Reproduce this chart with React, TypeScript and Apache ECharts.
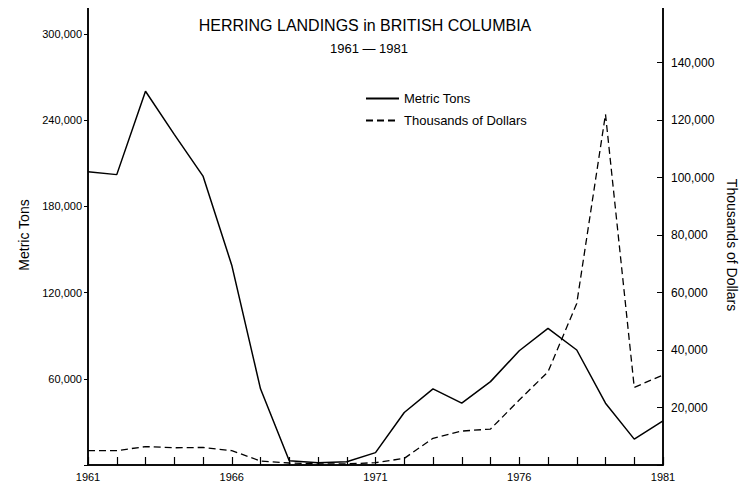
import React, { useEffect, useRef } from "react";
import * as echarts from "echarts";

const years = [
  "1961", "1962", "1963", "1964", "1965", "1966", "1967", "1968", "1969", "1970",
  "1971", "1972", "1973", "1974", "1975", "1976", "1977", "1978", "1979", "1980", "1981",
];
const metricTons = [
  204000, 202000, 260000, 230000, 201000, 139000, 53000, 3000, 1600, 2200,
  8600, 36500, 53000, 43000, 58000, 79500, 95000, 80000, 43000, 18000, 30700,
];
const thousandsDollars = [
  5000, 5000, 6400, 6000, 6100, 5000, 1400, 700, 400, 400,
  800, 2300, 9300, 11800, 12500, 22600, 32400, 56200, 122000, 27000, 31300,
];
const titleLine1 = "HERRING LANDINGS in BRITISH COLUMBIA";
const titleLine2 = "1961 \u2014 1981";

const FONT = "'Liberation Sans', Arial, Helvetica, sans-serif";

function fmt(v: number): string {
  return String(v).replace(/\B(?=(\d{3})+(?!\d))/g, ",");
}

export default function App() {
  const ref = useRef<HTMLDivElement>(null);
  useEffect(() => {
    if (!ref.current) return;
    const chart = echarts.init(ref.current, undefined, { renderer: "svg" });
    chart.setOption({
      animation: false,
      backgroundColor: "#fff",
      textStyle: { fontFamily: FONT, color: "#000" },
      title: [
        {
          text: titleLine1,
          left: 360,
          top: 12,
          textAlign: "center",
          textStyle: { fontFamily: FONT, fontSize: 16, fontWeight: "normal", color: "#000" },
        },
        {
          text: titleLine2,
          left: 364,
          top: 37,
          textAlign: "center",
          textStyle: { fontFamily: FONT, fontSize: 13, fontWeight: "normal", color: "#000" },
        },
      ],
      legend: {
        orient: "vertical",
        left: 360,
        top: 87,
        padding: 5,
        itemWidth: 33,
        itemHeight: 10,
        itemGap: 9,
        itemStyle: { opacity: 0 },
        textStyle: { fontFamily: FONT, fontSize: 13, color: "#000" },
        data: ["Metric Tons", "Thousands of Dollars"],
      },
      grid: {
        left: 88,
        right: 92,
        top: 5,
        bottom: 25,
        show: true,
        borderColor: "#000",
        borderWidth: 1.5,
        backgroundColor: "transparent",
      },
      xAxis: {
        type: "category",
        data: years,
        boundaryGap: false,
        axisLine: { show: true, lineStyle: { color: "#000", width: 1.5 } },
        axisTick: { show: true, inside: true, length: 8, interval: 0, lineStyle: { color: "#000", width: 1.2 } },
        axisLabel: { interval: 4, color: "#000", fontSize: 11, fontFamily: FONT, margin: 6 },
        splitLine: { show: false },
      },
      yAxis: [
        {
          type: "value",
          min: 0,
          max: 320000,
          interval: 60000,
          position: "left",
          name: "Metric Tons",
          nameLocation: "middle",
          nameRotate: 90,
          nameGap: 56,
          nameTextStyle: { fontFamily: FONT, fontSize: 14, color: "#000" },
          axisLine: { show: true, lineStyle: { color: "#000", width: 1.5 } },
          axisTick: { show: true, length: 4, lineStyle: { color: "#000" } },
          axisLabel: {
            color: "#000",
            fontSize: 11,
            fontFamily: FONT,
            margin: 6,
            formatter: (v: number) => (v === 0 || v > 300000 ? "" : fmt(v)),
          },
          splitLine: { show: false },
        },
        {
          type: "value",
          min: 0,
          max: 160000,
          interval: 20000,
          position: "right",
          name: "Thousands of Dollars",
          nameLocation: "middle",
          nameRotate: -90,
          nameGap: 58,
          nameTextStyle: { fontFamily: FONT, fontSize: 14, color: "#000", padding: [0, 0, 0, 20] },
          axisLine: { show: true, lineStyle: { color: "#000", width: 1.5 } },
          axisTick: { show: true, inside: true, length: 6, lineStyle: { color: "#000" } },
          axisLabel: {
            color: "#000",
            fontSize: 12,
            fontFamily: FONT,
            margin: 8,
            formatter: (v: number) => (v === 0 || v > 140000 ? "" : fmt(v)),
          },
          splitLine: { show: false },
        },
      ],
      series: [
        {
          name: "Metric Tons",
          type: "line",
          yAxisIndex: 0,
          data: metricTons,
          symbol: "none",
          lineStyle: { color: "#000", width: 1.5, type: "solid" },
          itemStyle: { color: "#000" },
        },
        {
          name: "Thousands of Dollars",
          type: "line",
          yAxisIndex: 1,
          data: thousandsDollars,
          symbol: "none",
          lineStyle: { color: "#000", width: 1.3, type: [7, 4] },
          itemStyle: { color: "#000" },
        },
      ],
    });
    return () => chart.dispose();
  }, []);
  return <div ref={ref} style={{ width: 755, height: 490, margin: -8 }} />;
}
